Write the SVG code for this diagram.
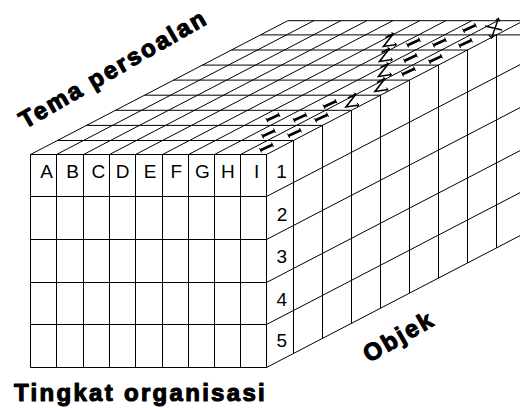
<svg xmlns="http://www.w3.org/2000/svg" width="520" height="408" viewBox="0 0 520 408">
<style>
.ln{stroke:#000;stroke-width:1;fill:none}
.cell{font-family:"Liberation Sans",Arial,sans-serif;font-size:19px;fill:#000;text-anchor:middle}
.ttl{font-family:"Liberation Sans",Arial,sans-serif;font-size:24px;font-weight:bold;letter-spacing:2.3px;fill:#000;stroke:#000;stroke-width:1.1px;stroke-linejoin:round}
.mk{stroke:#000;fill:none;stroke-linecap:butt}
</style>
<defs>
<g id="mI" class="mk"><path d="M-6,2.8 L6,-2.8" stroke-width="2.6"/><path d="M-7,0.6 L-5,5 M5,-5 L7,-0.6" stroke-width="1"/></g>
<g id="mZ" class="mk"><path d="M-4,-3 L4,-7 L-6,6 L7,4" stroke-width="1.6" stroke-linejoin="miter"/><path d="M5,2 L7,4 L5,6 M2,-8 L4,-7 L3,-5" stroke-width="1"/></g>
</defs>
<rect width="520" height="408" fill="#fff"/>
<g id="connectors" class="ln">
<path d="M30.5,154.5H266.5M30.5,196.5H266.5M30.5,239.5H266.5M30.5,282.5H266.5M30.5,324.5H266.5M30.5,367.5H266.5"/>
<path d="M30.5,154.5V367.5M56.5,154.5V367.5M83.5,154.5V367.5M109.5,154.5V367.5M135.5,154.5V367.5M162.5,154.5V367.5M188.5,154.5V367.5M214.5,154.5V367.5M240.5,154.5V367.5M266.5,154.5V367.5"/>
<path d="M30.5,154.5L287.8,20.7M56.5,154.5L313.8,20.7M83.5,154.5L340.8,20.7M109.5,154.5L366.8,20.7M135.5,154.5L392.8,20.7M162.5,154.5L419.8,20.7M188.5,154.5L445.8,20.7M214.5,154.5L471.8,20.7M240.5,154.5L497.8,20.7M266.5,154.5L523.8,20.7"/>
<path d="M57.5,140.5H293.5M86.5,125.4H322.5M115.5,110.3H351.5M144.5,95.2H380.5M173.5,80.1H409.5M202.5,65.1H438.5M231.5,50H467.5M260.5,34.9H520M287.8,20.7H520"/>
<path d="M266.5,196.5L523.8,62.7M266.5,239.5L523.8,105.7M266.5,282.5L523.8,148.7M266.5,324.5L523.8,190.7M266.5,367.5L523.8,233.7"/>
<path d="M293.5,140.5V353.5M322.5,125.4V338.4M351.5,110.3V323.3M380.5,95.2V308.2M409.5,80.1V293.1M438.5,65.1V278.1M467.5,50V263M496.5,34.9V247.9"/>
</g>
<g id="marks">
<use href="#mI" x="266.5" y="147.5"/>
<use href="#mI" x="268.5" y="133.5"/>
<use href="#mI" x="273" y="117.5"/>
<use href="#mI" x="294.5" y="133"/>
<use href="#mI" x="300" y="117.5"/>
<use href="#mI" x="321.5" y="117.5"/>
<use href="#mI" x="330" y="104"/>
<use href="#mZ" x="352" y="101"/>
<use href="#mZ" x="381" y="85.5"/>
<use href="#mI" x="408.5" y="71.5"/>
<use href="#mZ" x="384.5" y="70.5"/>
<use href="#mI" x="410.5" y="58"/>
<use href="#mI" x="435.5" y="59"/>
<use href="#mZ" x="385.5" y="55.5"/>
<use href="#mZ" x="389.5" y="40.5"/>
<use href="#mI" x="413.5" y="42.5"/>
<use href="#mI" x="439.5" y="42.5"/>
<use href="#mI" x="465.5" y="43"/>
<use href="#mI" x="469.5" y="28"/>
<g class="mk" stroke-width="1.4"><path d="M498.5,18.5L491.5,38"/><path d="M485,26L502,30"/><path d="M489,35L491.5,38L494,35.5M496,20L498.5,18.5L499.5,21.5"/></g>
</g>
<g id="front-labels">
<text class="cell" x="46.5" y="178.3">A</text>
<text class="cell" x="72.5" y="178.3">B</text>
<text class="cell" x="98.3" y="178.3">C</text>
<text class="cell" x="122.5" y="178.3">D</text>
<text class="cell" x="150" y="178.3">E</text>
<text class="cell" x="176.2" y="178.3">F</text>
<text class="cell" x="202.5" y="178.3">G</text>
<text class="cell" x="227.8" y="178.3">H</text>
<text class="cell" x="256.7" y="178.3">I</text>
</g>
<g id="side-labels">
<text class="cell" x="281.5" y="178.3">1</text>
<text class="cell" x="282" y="220.7">2</text>
<text class="cell" x="281.8" y="263.3">3</text>
<text class="cell" x="281.8" y="305.7">4</text>
<text class="cell" x="281.8" y="347.3">5</text>
</g>
<g id="axis-titles">
<text class="ttl" x="14" y="400.7">Tingkat organisasi</text>
<text class="ttl" transform="translate(25,129) rotate(-30)">Tema persoalan</text>
<text class="ttl" transform="translate(369,363) rotate(-30)">Objek</text>
</g>
</svg>
